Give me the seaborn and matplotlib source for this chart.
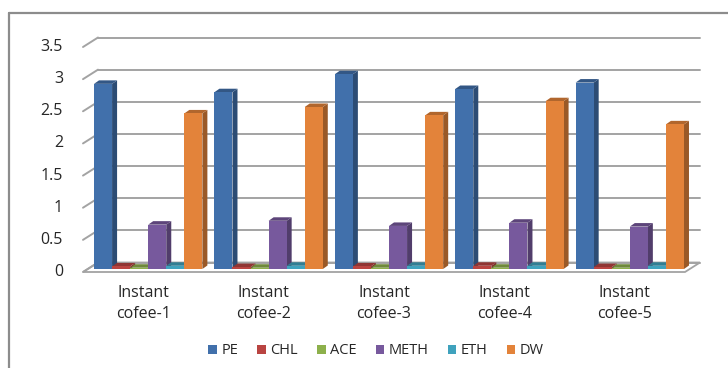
import numpy as np
import pandas as pd
import matplotlib
matplotlib.use("Agg")
import matplotlib.pyplot as plt
import seaborn as sns
from matplotlib.patches import Polygon, Patch
from matplotlib.lines import Line2D
from matplotlib.transforms import ScaledTranslation, blended_transform_factory
import matplotlib.colors as mcolors

# ---- data -------------------------------------------------------------
samples = ["Instant\ncofee-1", "Instant\ncofee-2", "Instant\ncofee-3",
           "Instant\ncofee-4", "Instant\ncofee-5"]
solvents = ["PE", "CHL", "ACE", "METH", "ETH", "DW"]
pe = [2.88, 2.75, 3.03, 2.80, 2.90]
chl = [0.04, 0.03, 0.04, 0.05, 0.03]
ace = [0.02, 0.02, 0.02, 0.02, 0.02]
meth = [0.69, 0.75, 0.67, 0.72, 0.66]
eth = [0.05, 0.05, 0.05, 0.05, 0.05]
dw = [2.42, 2.52, 2.39, 2.61, 2.25]
y_ticks = [0, 0.5, 1, 1.5, 2, 2.5, 3, 3.5]
y_tick_labels = ["0", "0.5", "1", "1.5", "2", "2.5", "3", "3.5"]

series = {"PE": pe, "CHL": chl, "ACE": ace, "METH": meth, "ETH": eth, "DW": dw}
df = pd.DataFrame(
    [(s, name, v) for name, vals in series.items() for s, v in zip(samples, vals)],
    columns=["sample", "solvent", "value"],
)

colors = ["#4170AB", "#B94441", "#8DB04B", "#77599D", "#3FA2BD", "#E3833A"]

# ---- figure / axes ----------------------------------------------------
sns.set_theme(style="white")
plt.rcParams["font.family"] = ["Open Sans", "DejaVu Sans"]

W, H = 728, 368
fig = plt.figure(figsize=(W / 100, H / 100), dpi=100)
fig.patch.set_facecolor("white")
ax = fig.add_axes([88 / W, (H - 269) / H, 602 / W, 225 / H])

sns.barplot(data=df, x="sample", y="value", hue="solvent",
            order=samples, hue_order=solvents, palette=colors,
            width=0.9, saturation=1, ax=ax, legend=False,
            linewidth=0, edgecolor="none")

ax.set_xlim(-0.5, 4.5)
ax.set_ylim(0, 3.5)
ax.set_axis_off()

# pixel -> data conversion factors for the pseudo-3D depth offsets
ax_w_px = 602
ax_h_px = 225
px_x = 5.0 / ax_w_px
px_y = 3.5 / ax_h_px


def off(dx, dy):
    return ax.transData + ScaledTranslation(dx / 100, dy / 100, fig.dpi_scale_trans)


back = (10, 6.5)     # back wall relative to bar plane (px)
front = (-5, -3)     # front edge relative to bar plane (px)
grid_c = "#A3A3A3"

# floor
fx0, fx1 = -0.5, 4.5
floor = Polygon([
    (fx0 + front[0] * px_x, front[1] * px_y),
    (fx1 + front[0] * px_x, front[1] * px_y),
    (fx1 + back[0] * px_x, back[1] * px_y),
    (fx0 + back[0] * px_x, back[1] * px_y),
], closed=True, facecolor="white", edgecolor=grid_c, lw=1.3, zorder=1,
    clip_on=False)
ax.add_patch(floor)

# back-wall gridlines and their slanted left ends
for yv in y_ticks:
    ax.plot([fx0, fx1], [yv, yv], transform=off(*back), color=grid_c,
            lw=1.4, clip_on=False, zorder=1.5)
    ax.plot([fx0 + front[0] * px_x, fx0 + back[0] * px_x],
            [yv + front[1] * px_y, yv + back[1] * px_y],
            color=grid_c, lw=1.4, clip_on=False, zorder=1.5)

# extrude bars into 3D: side and top faces
bdx, bdy = 5 * px_x, 3.5 * px_y
bars = sorted([p for p in ax.patches if p is not floor and p.get_width() > 0],
              key=lambda p: p.get_x())
for i, p in enumerate(bars):
    x, w, h = p.get_x(), p.get_width(), p.get_height()
    base = np.array(mcolors.to_rgb(p.get_facecolor()))
    side_c = base * 0.68
    top_c = base * 0.78
    z = 10 + 3 * i
    side = Polygon([(x + w, 0), (x + w + bdx, bdy), (x + w + bdx, h + bdy), (x + w, h)],
                   closed=True, facecolor=side_c, edgecolor="none", zorder=z,
                   clip_on=False)
    top = Polygon([(x, h), (x + w, h), (x + w + bdx, h + bdy), (x + bdx, h + bdy)],
                  closed=True, facecolor=top_c, edgecolor="none", zorder=z + 1,
                  clip_on=False)
    ax.add_patch(side)
    ax.add_patch(top)
    p.set_zorder(z + 2)
    p.set_clip_on(False)

# y tick labels on the front plane
ytr = blended_transform_factory(fig.transFigure, off(*front))
for yv, lab in zip(y_ticks, y_tick_labels):
    ax.text(63 / W, yv, lab, transform=ytr, ha="right", va="center",
            fontsize=11.5, color="#262626")

# category labels
for i, lab in enumerate(samples):
    ax.text(i, 0, lab, transform=off(front[0], -16), ha="center", va="top",
            fontsize=11.5, color="#262626", linespacing=1.4)

# legend
handles = [Patch(facecolor=c, edgecolor="none") for c in colors]
fig.legend(handles, solvents, loc="center", bbox_to_anchor=(376 / W, 1 - 351 / H),
           ncol=6, frameon=False, fontsize=10.5, handlelength=0.6,
           handleheight=0.6, handletextpad=0.3, columnspacing=1.3,
           labelcolor="#262626")

# outer frame
fy = 1 - 13 / H
fx = 9 / W
fig.add_artist(Line2D([fx, fx], [0, fy], transform=fig.transFigure,
                      color="#8C8C8C", lw=1.6))
fig.add_artist(Line2D([fx, 1.0], [fy, fy], transform=fig.transFigure,
                      color="#8C8C8C", lw=1.6))

fig.savefig("out.png", dpi=100, facecolor="white")
